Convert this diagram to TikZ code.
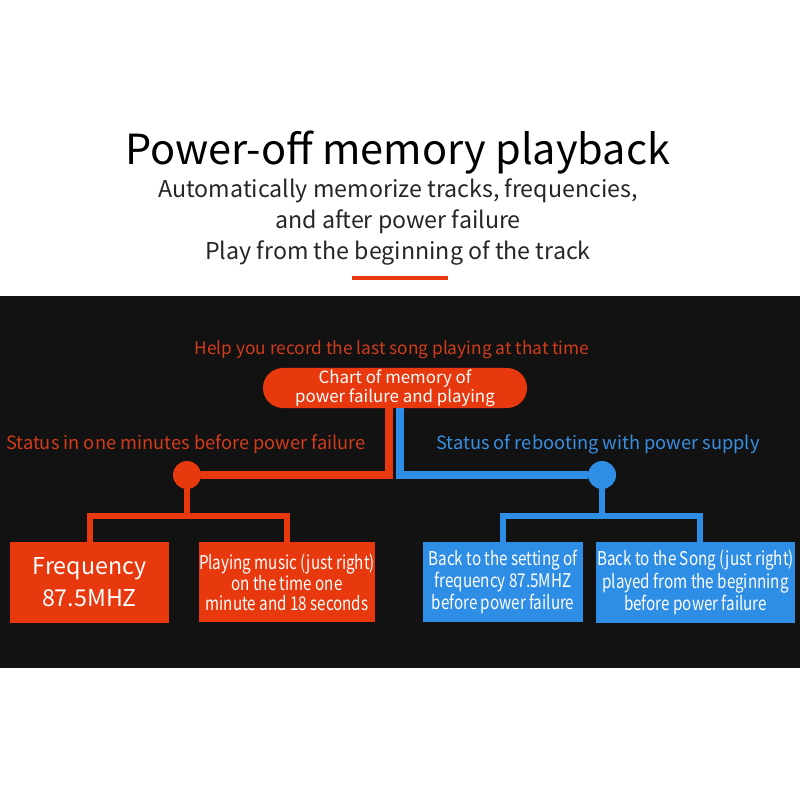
\documentclass[tikz,border=0pt]{standalone}
\usepackage{fontspec}
\setmainfont{Noto Sans CJK SC}
\newfontfamily\narrowfont[FakeStretch=0.8]{Noto Sans CJK SC}
\definecolor{redorange}{HTML}{E8380D}
\definecolor{redtext}{HTML}{D23B1C}
\definecolor{bluebox}{HTML}{2E8EE6}
\definecolor{bluetext}{HTML}{3A8EE0}
\definecolor{band}{HTML}{121212}
\begin{document}
\begin{tikzpicture}[x=0.025cm,y=-0.025cm,
redline/.style={draw=redorange,line width=0.19cm},
blueline/.style={draw=bluebox,line width=0.19cm},
redtick/.style={draw=redorange,line width=0.15cm},
bluetick/.style={draw=bluebox,line width=0.15cm},
tbox/.style={fill=#1,text=white,minimum height=2cm,inner sep=0pt,align=center},
dot/.style={circle,fill=#1,minimum size=0.7cm,inner sep=0pt}]
\fill[white] (0,0) rectangle (800,800);
\useasboundingbox (0,0) rectangle (800,800);
\fill[band] (0,296) rectangle (800,668);
\fill[redorange] (352,276) rectangle (448,280);
\node (title) at (398,153) {\fontsize{29.5}{34}\selectfont Power-off memory playback};
\node[align=center,text=black!85,font=\fontsize{16.5}{22}\selectfont] (sub) at (398,222) {Automatically memorize tracks, frequencies,\\and after power failure\\Play from the beginning of the track};
\node[text=redtext,font=\fontsize{12.3}{14}\selectfont] (help) at (392,350) {Help you record the last song playing at that time};
\node[fill=redorange,text=white,rounded corners=0.5cm,minimum width=6.6cm,minimum height=1cm,align=center,inner sep=0pt,font=\fontsize{12}{13.5}\selectfont] (chart) at (395,388) {Chart of memory of\\power failure and playing};
\node[text=redtext,font=\fontsize{13}{15}\selectfont] (before) at (186,444) {Status in one minutes before power failure};
\node[text=bluetext,font=\fontsize{13}{15}\selectfont] (reboot) at (598,444) {Status of rebooting with power supply};
\node[dot=redorange] (dotL) at (187,475) {};
\node[dot=bluebox] (dotR) at (602,475) {};
\coordinate (jL) at (187,516);
\coordinate (jR) at (602,516);
\node[tbox=redorange,minimum width=3.975cm,font=\fontsize{16.5}{22.7}\selectfont] (b1) at (89.5,582.5) {Frequency\\87.5MHZ};
\node[tbox=redorange,minimum width=4.4cm,font=\narrowfont\fontsize{13.5}{14}\selectfont] (b2) at (287,582) {Playing music (just right)\\on the time one\\minute and 18 seconds};
\node[tbox=bluebox,minimum width=4cm,font=\narrowfont\fontsize{13.5}{15.6}\selectfont] (b3) at (503,582) {Back to the setting of\\frequency 87.5MHZ\\before power failure};
\node[tbox=bluebox,minimum width=4.95cm,font=\narrowfont\fontsize{13.5}{16}\selectfont] (b4) at (695.5,582.5) {Back to the Song (just right)\\played from the beginning\\before power failure};
\path[redline] ([xshift=-0.15cm]chart.south) |- (dotL);
\path[blueline] ([xshift=0.125cm]chart.south) |- (dotR);
\path[redtick] (dotL) -- (jL);
\path[redtick] (b1.north) |- (jL) -| (b2.north);
\path[bluetick] (dotR) -- (jR);
\path[bluetick] (b3.north) |- (jR) -| ([xshift=0.1cm]b4.north);
\end{tikzpicture}
\end{document}
